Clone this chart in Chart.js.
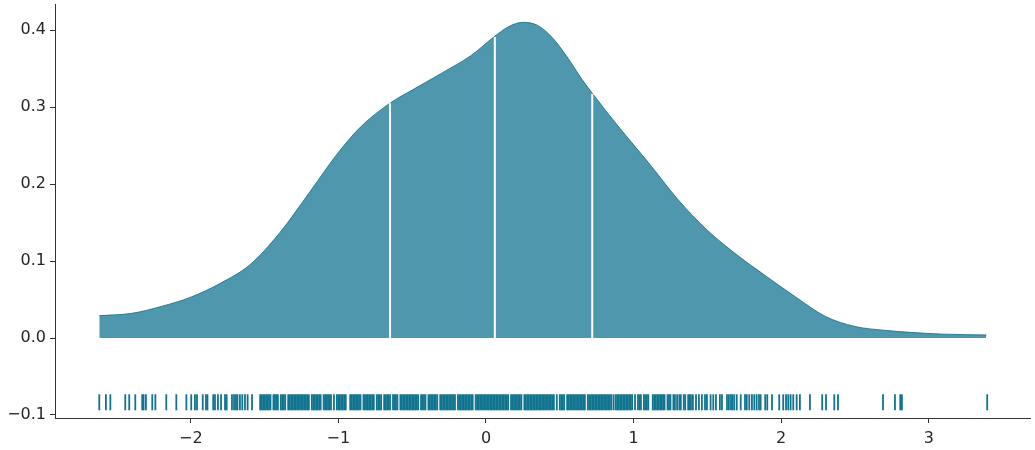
<!DOCTYPE html>
<html>
<head>
<meta charset="utf-8">
<script src="https://cdn.jsdelivr.net/npm/chart.js"></script>
<style>
  *{margin:0;padding:0;box-sizing:border-box}
  body{background:#fff;font-family:'DejaVu Sans',sans-serif}
  #wrap{width:1035px;height:450px}
</style>
</head>
<body>
<div id="wrap"><canvas id="c" width="1035" height="450"></canvas></div>
<script>
// density curve
const kdeX = [-2.62, -2.4, -2.2, -2.0, -1.8, -1.6, -1.4, -1.2, -1.0, -0.85, -0.65, -0.5, -0.3, -0.1, 0.06, 0.15, 0.25, 0.35, 0.45, 0.55, 0.65, 0.72, 0.9, 1.1, 1.3, 1.5, 1.7, 1.9, 2.1, 2.3, 2.5, 2.7, 2.9, 3.1, 3.39];
const kdeY = [0.029, 0.032, 0.041, 0.053, 0.071, 0.095, 0.136, 0.188, 0.241, 0.274, 0.305, 0.322, 0.344, 0.367, 0.392, 0.404, 0.41, 0.406, 0.39, 0.365, 0.336, 0.318, 0.274, 0.228, 0.18, 0.14, 0.108, 0.08, 0.053, 0.028, 0.015, 0.01, 0.007, 0.005, 0.004];

// quartile markers
const quartileX = [-0.65, 0.06, 0.72];
const quartileY = [0.305, 0.391, 0.317];

// rug positions
const rugLeft = [-2.62, -2.575, -2.545, -2.444, -2.417, -2.376, -2.329, -2.32, -2.304, -2.261, -2.24, -2.166, -2.098, -2.03, -1.997, -1.972, -1.958, -1.919, -1.897, -1.887, -1.848, -1.836, -1.816, -1.795, -1.768, -1.757, -1.721, -1.707, -1.694, -1.684, -1.667, -1.651, -1.633, -1.615, -1.585];
const rugMid = [
  -1.53, -1.52, -1.51, -1.50, -1.49, -1.48, -1.47, -1.46, -1.44, -1.43, -1.42, -1.41, -1.39, -1.38, -1.37, -1.36,
  -1.34, -1.33, -1.32, -1.31, -1.30, -1.29, -1.28, -1.27, -1.26, -1.25, -1.24, -1.23, -1.22, -1.21, -1.20,
  -1.18, -1.17, -1.16, -1.15, -1.14, -1.13, -1.12, -1.10, -1.09, -1.08, -1.07, -1.06, -1.05, -1.03,
  -1.01, -1.00, -0.99, -0.98, -0.97, -0.96, -0.95, -0.92, -0.91, -0.90, -0.89, -0.88, -0.87, -0.86, -0.85,
  -0.83, -0.82, -0.81, -0.80, -0.79, -0.78, -0.77, -0.76, -0.74, -0.73, -0.72, -0.71, -0.69, -0.68, -0.67,
  -0.66, -0.65, -0.63, -0.62, -0.61, -0.60, -0.58, -0.57, -0.56, -0.55, -0.54, -0.53, -0.52, -0.51, -0.50,
  -0.49, -0.48, -0.47, -0.46, -0.44, -0.43, -0.42, -0.41, -0.39, -0.38, -0.37, -0.36, -0.35, -0.34, -0.33,
  -0.31, -0.30, -0.29, -0.28, -0.27, -0.26, -0.25, -0.24, -0.23, -0.22, -0.21, -0.19, -0.18, -0.17, -0.16,
  -0.15, -0.14, -0.13, -0.12, -0.11, -0.10, -0.09, -0.07, -0.06, -0.05, -0.04, -0.03, -0.02, -0.01, 0.00,
  0.01, 0.02, 0.03, 0.04, 0.05, 0.06, 0.07, 0.08, 0.09, 0.10, 0.11, 0.12, 0.13, 0.14, 0.15, 0.17, 0.18,
  0.19, 0.20, 0.21, 0.22, 0.23, 0.24, 0.26, 0.27, 0.28, 0.29, 0.30, 0.31, 0.32, 0.33, 0.34, 0.35, 0.36,
  0.37, 0.38, 0.39, 0.40, 0.41, 0.42, 0.43, 0.44, 0.45, 0.46, 0.48, 0.50, 0.51, 0.52, 0.53, 0.55, 0.56,
  0.57, 0.58, 0.59, 0.60, 0.61, 0.62, 0.63, 0.64, 0.65, 0.66, 0.67, 0.69, 0.70, 0.71, 0.72, 0.73, 0.74,
  0.75, 0.76, 0.77, 0.78, 0.79, 0.80, 0.81, 0.82, 0.83, 0.84, 0.85, 0.865, 0.88, 0.89, 0.90, 0.91, 0.92,
  0.93, 0.94, 0.95, 0.96, 0.97, 0.98, 0.99, 1.01, 1.03, 1.04, 1.05, 1.07, 1.08, 1.09, 1.10, 1.13, 1.14,
  1.15, 1.16, 1.17, 1.18, 1.19, 1.20, 1.21, 1.23, 1.24, 1.25, 1.27, 1.28, 1.295, 1.31, 1.32, 1.34, 1.35, 1.37, 1.38
];
const rugRight = [1.389, 1.402, 1.423, 1.443, 1.463, 1.484, 1.497, 1.522, 1.54, 1.558, 1.585, 1.599, 1.633, 1.646, 1.66, 1.67, 1.682, 1.699, 1.726, 1.755, 1.767, 1.784, 1.802, 1.818, 1.834, 1.85, 1.861, 1.892, 1.906, 1.938, 1.987, 2.014, 2.033, 2.048, 2.064, 2.082, 2.105, 2.127, 2.195, 2.278, 2.304, 2.36, 2.385, 2.69, 2.771, 2.807, 2.818, 3.396];
const rugLevel = -0.0835;

const xTicks = [-2, -1, 0, 1, 2, 3];
const yTicks = [-0.1, 0.0, 0.1, 0.2, 0.3, 0.4];

const teal = "#10738f";
const ink = "#262626";
const minus = s => String(s).replace("-", "\u2212");

const rugX = [...rugLeft, ...rugMid, ...rugRight];

const datasets = [
  {
    type: "line",
    data: kdeX.map((x, i) => ({ x, y: kdeY[i] })),
    borderColor: "rgba(16,115,143,0.85)",
    borderWidth: 1,
    backgroundColor: "rgba(16,115,143,0.74)",
    fill: "origin",
    pointRadius: 0,
    cubicInterpolationMode: "monotone",
    order: 3
  },
  ...quartileX.map((q, i) => ({
    type: "line",
    data: [{ x: q, y: 0 }, { x: q, y: quartileY[i] }],
    borderColor: "#ffffff",
    borderWidth: 2,
    pointRadius: 0,
    fill: false,
    order: 1
  })),
  {
    type: "scatter",
    data: rugX.map(x => ({ x, y: rugLevel })),
    pointStyle: "line",
    rotation: 90,
    radius: 8,
    borderColor: teal,
    borderWidth: 1.8,
    order: 2
  }
];

new Chart(document.getElementById("c"), {
  data: { datasets },
  options: {
    responsive: false,
    animation: false,
    events: [],
    layout: { autoPadding: false, padding: { top: 4, right: 5, left: 0, bottom: 0 } },
    plugins: { legend: { display: false }, tooltip: { enabled: false } },
    scales: {
      x: {
        type: "linear",
        min: -2.92,
        max: 3.686,
        afterBuildTicks: s => { s.ticks = xTicks.map(v => ({ value: v })); },
        afterFit: s => { s.height = 32; s.paddingLeft = 0; s.paddingRight = 0; },
        grid: { display: true, drawOnChartArea: false, drawTicks: true, tickLength: 5, color: "#333", lineWidth: 1 },
        border: { display: true, color: "#333", width: 1 },
        ticks: { color: ink, font: { family: "DejaVu Sans", size: 16 }, padding: 6, maxRotation: 0, callback: v => minus(v) }
      },
      y: {
        type: "linear",
        min: -0.1039,
        max: 0.4338,
        afterBuildTicks: s => { s.ticks = yTicks.map(v => ({ value: v })); },
        afterFit: s => { s.width = 55; s.paddingTop = 0; s.paddingBottom = 0; },
        grid: { display: true, drawOnChartArea: false, drawTicks: true, tickLength: 5, color: "#333", lineWidth: 1 },
        border: { display: true, color: "#333", width: 1 },
        ticks: { color: ink, font: { family: "DejaVu Sans", size: 16 }, padding: 4, callback: v => minus(Number(v).toFixed(1)) }
      }
    }
  }
});
</script>
</body>
</html>
